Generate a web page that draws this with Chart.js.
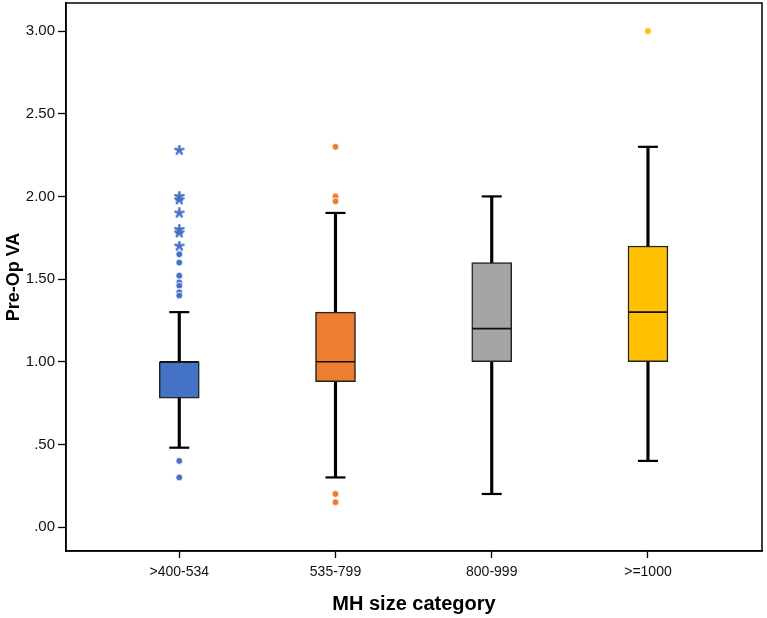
<!DOCTYPE html>
<html>
<head>
  <meta charset="UTF-8" />
  <title>Pre-Op VA by MH size category</title>
  <script src="https://cdn.jsdelivr.net/npm/chart.js"></script>
  <style>
    body {
      margin: 0;
      background-color: #fff;
      font-family: "Liberation Sans", Arial, sans-serif;
    }

    #chartContainer {
      width: 767px;
      height: 618px;
    }
  </style>
</head>
<body>

  <div id="chartContainer">
    <canvas id="boxChart"></canvas>
  </div>

  <script>
    // values
    const categories = ['>400-534', '535-799', '800-999', '>=1000'];
    const boxColors = ['#4472C4', '#ED7D31', '#A5A5A5', '#FFC000'];

    const whiskerLow  = [0.48, 0.30, 0.20, 0.40];
    const q1          = [0.78, 0.88, 1.00, 1.00];
    const median      = [1.00, 1.00, 1.20, 1.30];
    const q3          = [1.00, 1.30, 1.60, 1.70];
    const whiskerHigh = [1.30, 1.90, 2.00, 2.30];

    // circles = outliers, stars = extreme values
    const outliers = [
      [1.65, 1.60, 1.52, 1.48, 1.46, 1.42, 1.40, 0.40, 0.30],
      [2.30, 2.00, 1.97, 0.20, 0.15],
      [],
      [3.00]
    ];
    const extremes = [
      [2.28, 2.00, 1.98, 1.90, 1.80, 1.78, 1.70],
      [],
      [],
      []
    ];

    const yTicks = [0, 0.5, 1, 1.5, 2, 2.5, 3];

    // little asterisk used for the extreme values
    function makeStar(color, size) {
      const c = document.createElement('canvas');
      c.width = size;
      c.height = size;
      const g = c.getContext('2d');
      const r = size / 2;
      g.strokeStyle = color;
      g.fillStyle = color;
      g.lineWidth = 2.4;
      g.lineCap = 'round';
      for (let i = 0; i < 5; i++) {
        const a = -Math.PI / 2 + i * 2 * Math.PI / 5;
        g.beginPath();
        g.moveTo(r, r);
        g.lineTo(r + Math.cos(a) * (r - 1.2), r + Math.sin(a) * (r - 1.2));
        g.stroke();
      }
      g.beginPath();
      g.arc(r, r, 2, 0, Math.PI * 2);
      g.fill();
      return c;
    }

    const whiskerData = categories.map((_, i) => ({ x: i, y: [whiskerLow[i], whiskerHigh[i]] }));
    const boxData = categories.map((_, i) => ({ x: i, y: [q1[i], q3[i]] }));
    const capData = [];
    categories.forEach((_, i) => {
      capData.push({ x: i, y: whiskerLow[i] });
      capData.push({ x: i, y: whiskerHigh[i] });
    });
    const medianData = categories.map((_, i) => ({ x: i, y: median[i] }));

    const outlierData = [];
    const outlierColors = [];
    outliers.forEach((list, i) => {
      list.forEach(v => {
        outlierData.push({ x: i, y: v });
        outlierColors.push(boxColors[i]);
      });
    });

    const extremeData = [];
    const extremeStyles = [];
    extremes.forEach((list, i) => {
      list.forEach(v => {
        extremeData.push({ x: i, y: v });
        extremeStyles.push(makeStar(boxColors[i], 11));
      });
    });

    const framePlugin = {
      id: 'frame',
      afterDatasetsDraw(chart) {
        const a = chart.chartArea;
        const ctx = chart.ctx;
        ctx.save();
        ctx.strokeStyle = '#000';
        ctx.lineWidth = 1.5;
        ctx.strokeRect(a.left, a.top, a.right - a.left, a.bottom - a.top);
        ctx.restore();
      }
    };

    const ctx = document.getElementById('boxChart').getContext('2d');

    const myChart = new Chart(ctx, {
      type: 'bar',
      data: {
        datasets: [
          {
            type: 'line',
            data: extremeData,
            showLine: false,
            pointStyle: extremeStyles,
            pointRadius: 5.5,
            order: 0
          },
          {
            type: 'line',
            data: outlierData,
            showLine: false,
            pointStyle: 'circle',
            pointRadius: 3.4,
            pointBackgroundColor: outlierColors,
            pointBorderColor: '#fff',
            pointBorderWidth: 0.8,
            order: 1
          },
          {
            type: 'line',
            data: medianData,
            showLine: false,
            pointStyle: 'line',
            pointRadius: 19.5,
            pointBorderColor: '#111',
            pointBorderWidth: 1.6,
            order: 2
          },
          {
            type: 'bar',
            data: boxData,
            grouped: false,
            barThickness: 40,
            backgroundColor: boxColors,
            borderColor: '#222',
            borderWidth: 1.5,
            borderSkipped: false,
            order: 3
          },
          {
            type: 'line',
            data: capData,
            showLine: false,
            pointStyle: 'line',
            pointRadius: 10,
            pointBorderColor: '#000',
            pointBorderWidth: 2.2,
            order: 4
          },
          {
            type: 'bar',
            data: whiskerData,
            grouped: false,
            barThickness: 2.5,
            backgroundColor: '#000',
            borderWidth: 0,
            order: 5
          }
        ]
      },
      options: {
        responsive: true,
        maintainAspectRatio: false,
        animation: false,
        layout: {
          autoPadding: false,
          padding: { top: 3, right: 5, left: 0, bottom: 0 }
        },
        plugins: {
          legend: { display: false },
          tooltip: { enabled: false }
        },
        scales: {
          x: {
            type: 'linear',
            offset: false,
            min: -0.725,
            max: 3.73,
            afterBuildTicks: (axis) => { axis.ticks = categories.map((_, i) => ({ value: i })); },
            afterFit: (axis) => {
              axis.height = 67;
              axis.paddingLeft = 0;
              axis.paddingRight = 0;
            },
            grid: {
              offset: false,
              drawOnChartArea: false,
              drawTicks: true,
              tickLength: 7,
              tickWidth: 1.3,
              tickColor: '#000'
            },
            border: { display: true, color: '#000', width: 1.5 },
            ticks: {
              color: '#111',
              padding: 6,
              maxRotation: 0,
              font: { family: '"Liberation Sans", Arial', size: 14 },
              callback: (v) => categories[v]
            },
            title: {
              display: true,
              text: 'MH size category',
              color: '#000',
              padding: { top: 0, bottom: 2 },
              font: { family: '"Liberation Sans", Arial', size: 20, weight: 'bold' }
            }
          },
          y: {
            min: -0.145,
            max: 3.17,
            afterBuildTicks: (axis) => { axis.ticks = yTicks.map(v => ({ value: v })); },
            afterFit: (axis) => {
              axis.width = 66;
              axis.paddingTop = 0;
              axis.paddingBottom = 0;
            },
            grid: {
              drawOnChartArea: false,
              drawTicks: true,
              tickLength: 8,
              tickWidth: 1.3,
              tickColor: '#000'
            },
            border: { display: true, color: '#000', width: 1.5 },
            ticks: {
              color: '#111',
              padding: 3,
              font: { family: '"Liberation Sans", Arial', size: 15 },
              callback: (v) => {
                const s = Number(v).toFixed(2);
                return v < 1 ? s.slice(1) : s;
              }
            },
            title: {
              display: true,
              text: 'Pre-Op VA',
              color: '#000',
              padding: { top: 3, bottom: 0 },
              font: { family: '"Liberation Sans", Arial', size: 18, weight: 'bold' }
            }
          }
        }
      },
      plugins: [framePlugin]
    });
  </script>
</body>
</html>
